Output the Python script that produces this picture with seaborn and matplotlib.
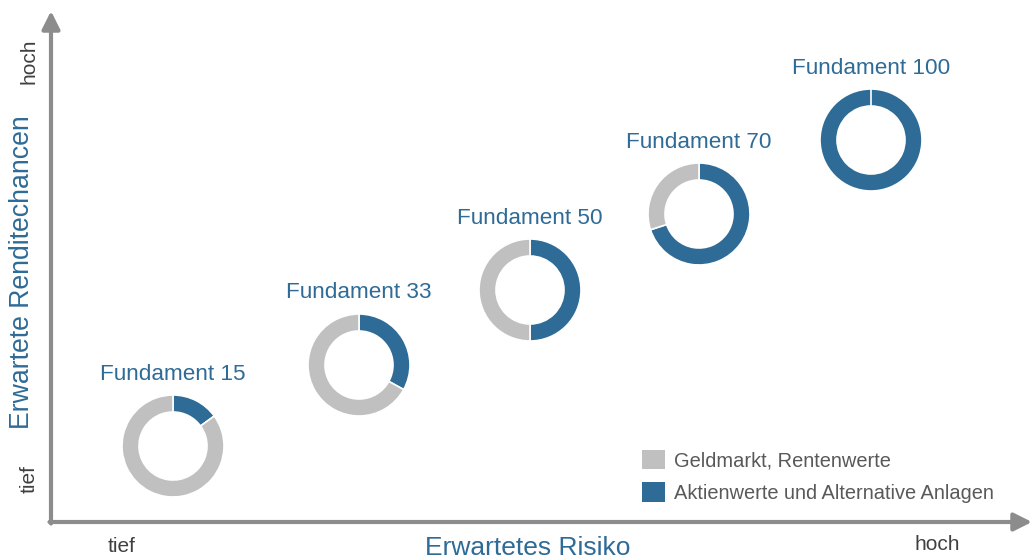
import matplotlib
matplotlib.use("Agg")
import matplotlib.pyplot as plt
import seaborn as sns
from matplotlib.patches import Patch

# Daten
fonds = ["Fundament 15", "Fundament 33", "Fundament 50", "Fundament 70", "Fundament 100"]
aktienanteil = [15, 33, 50, 70, 100]          # Aktienwerte und Alternative Anlagen in %
risiko = [122, 308, 479, 648, 820]            # Position auf der Risiko-Achse
rendite = [76, 157, 232, 308, 382]            # Position auf der Rendite-Achse
legende = ["Geldmarkt, Rentenwerte", "Aktienwerte und Alternative Anlagen"]

sns.set_theme(style="white")
plt.rcParams['font.family'] = ['Liberation Sans', 'DejaVu Sans']

blau = "#2e6b96"
grau = "#c0c0c0"
achse = "#8c8c8c"
textgrau = "#404040"

fig = plt.figure(figsize=(10.32, 5.6), dpi=100)
ax = fig.add_axes([0, 0, 1, 1])

# Achsen mit Pfeilen
pfeil = dict(arrowstyle="-|>,head_length=0.9,head_width=0.45", color=achse, lw=3,
             shrinkA=0, shrinkB=0)
ax.annotate("", xy=(981, 0), xytext=(-1.5, 0), arrowprops=pfeil, annotation_clip=False)
ax.annotate("", xy=(0, 511), xytext=(0, -1.5), arrowprops=pfeil, annotation_clip=False)

# Donuts
r = 51
for name, a, x, y in zip(fonds, aktienanteil, risiko, rendite):
    ax.pie([a, 100 - a], colors=[blau, grau], startangle=90, counterclock=False,
           radius=r, center=(x, y), frame=True,
           wedgeprops=dict(width=17, edgecolor="white", linewidth=1.2))
    ax.text(x, y + r + 21, name, ha="center", va="center", color=blau, fontsize=16.2)

ax.set_xlim(-51, 981)
ax.set_ylim(-38, 522)
ax.set_aspect("equal")
ax.axis("off")

# Achsenbeschriftungen
ax.text(477, -26, "Erwartetes Risiko", ha="center", va="center", color=blau, fontsize=19)
ax.text(-29, 250, "Erwartete Renditechancen", ha="center", va="center", color=blau,
        fontsize=19.2, rotation=90)
ax.text(71, -24, "tief", ha="center", va="center", color=textgrau, fontsize=15)
ax.text(886, -23, "hoch", ha="center", va="center", color=textgrau, fontsize=15)
ax.text(-22, 43, "tief", ha="center", va="center", color=textgrau, fontsize=15, rotation=90)
ax.text(-22, 461, "hoch", ha="center", va="center", color=textgrau, fontsize=15, rotation=90)

handles = [Patch(facecolor=grau, edgecolor="none"), Patch(facecolor=blau, edgecolor="none")]
ax.legend(handles, legende, loc="upper left", bbox_to_anchor=(636 / 1032, 1 - 444 / 560),
          bbox_transform=fig.transFigure, frameon=False, fontsize=14.4,
          handlelength=1.15, handleheight=1.1, handletextpad=0.45, labelspacing=0.6,
          labelcolor="#595959", borderaxespad=0, borderpad=0.3)

fig.savefig("out.png", dpi=100)
